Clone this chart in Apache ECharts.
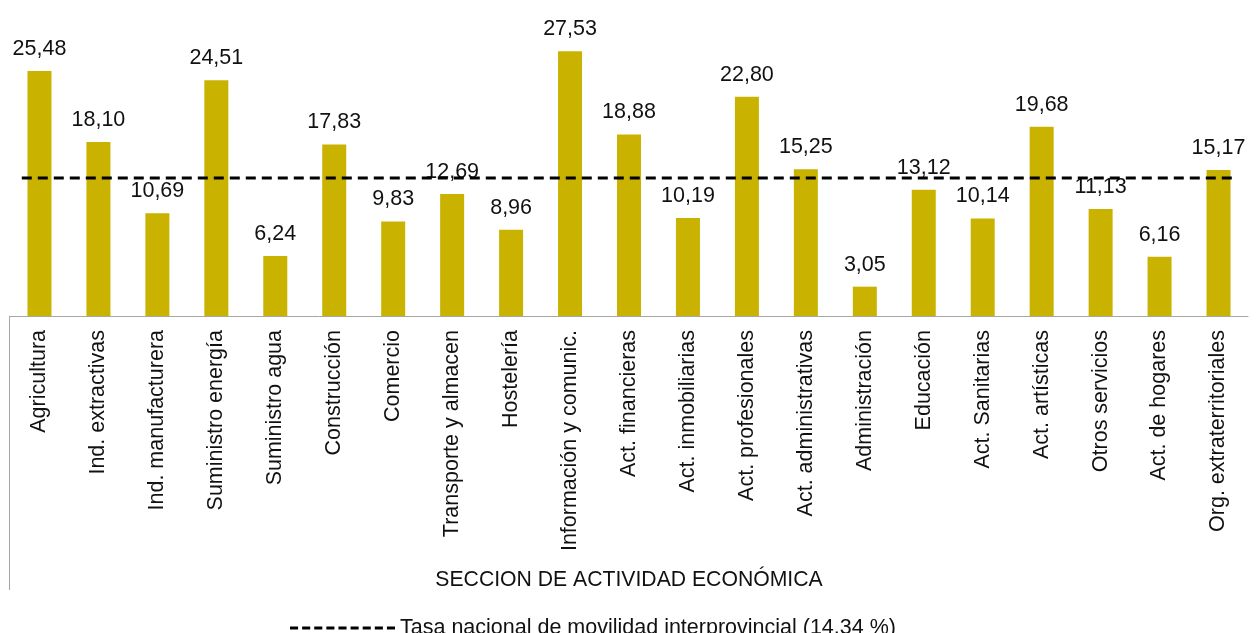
<!DOCTYPE html>
<html>
<head>
<meta charset="utf-8">
<script src="https://cdn.jsdelivr.net/npm/echarts@6/dist/echarts.min.js"></script>
<style>html,body{margin:0;padding:0;background:#fff}#c{width:1258px;height:633px}</style>
</head>
<body>
<div id="c"></div>
<script>
const categories = ["Agricultura","Ind. extractivas","Ind. manufacturera","Suministro energía","Suministro agua","Construcción","Comercio","Transporte y almacen","Hostelería","Información y comunic.","Act. financieras","Act. inmobiliarias","Act. profesionales","Act. administrativas","Administración","Educación","Act. Sanitarias","Act. artísticas","Otros servicios","Act. de hogares","Org. extraterritoriales"];
const values = [25.48,18.10,10.69,24.51,6.24,17.83,9.83,12.69,8.96,27.53,18.88,10.19,22.80,15.25,3.05,13.12,10.14,19.68,11.13,6.16,15.17];
const nationalRate = 14.34;
const lineName = "Tasa nacional de movilidad interprovincial (14,34 %)";
const axisName = "SECCION DE ACTIVIDAD ECONÓMICA";

const FONT = "Liberation Sans, Arial, sans-serif";
const FS = 21.5;
const chart = echarts.init(document.getElementById('c'), null, {renderer:'canvas'});
chart.setOption({
  animation:false,
  textStyle:{fontFamily:FONT},
  grid:{left:10,right:10,top:27.5,bottom:317,containLabel:false},
  xAxis:[{
    type:'category', data:categories,
    axisLine:{lineStyle:{color:'#A6A6A6',width:1}},
    axisTick:{show:false},
    axisLabel:{rotate:90,interval:0,fontSize:FS,color:'#111',fontFamily:FONT,margin:14},
    name:axisName, nameLocation:'middle', nameGap:254,
    nameTextStyle:{fontSize:21.2,color:'#111',fontFamily:FONT}
  },{
    type:'value', min:-0.5, max:20.5, show:false
  }],
  yAxis:{type:'value',min:0,max:30,show:false,splitLine:{show:false}},
  legend:{
    bottom:-11, left:285, itemWidth:105, itemHeight:14, itemGap:5,
    textStyle:{fontSize:FS,color:'#111',fontFamily:FONT},
    data:[{name:lineName, icon:'path://M0,6h8v3h-8zM12,6h8v3h-8zM24,6h8v3h-8zM36,6h8v3h-8zM48,6h8v3h-8zM60,6h8v3h-8zM72,6h8v3h-8zM84,6h8v3h-8zM96,6h8v3h-8z', itemStyle:{color:'#000'}}]
  },
  graphic:[{type:'line',shape:{x1:9.5,y1:316,x2:9.5,y2:590},style:{stroke:'#A6A6A6',lineWidth:1}}],
  series:[{
    type:'bar', data:values, barWidth:24,
    itemStyle:{color:'#C9B300'},
    label:{show:true,position:'top',distance:11,fontSize:FS,color:'#111',fontFamily:FONT,
      formatter:p=>p.value.toFixed(2).replace('.',',')}
  },{
    type:'line', name:lineName, xAxisIndex:1, symbol:'none',
    data:[[-0.3,nationalRate],[20.3,nationalRate]],
    lineStyle:{color:'#000',width:3,type:[10,6]}, z:5
  }]
});
</script>
</body>
</html>
